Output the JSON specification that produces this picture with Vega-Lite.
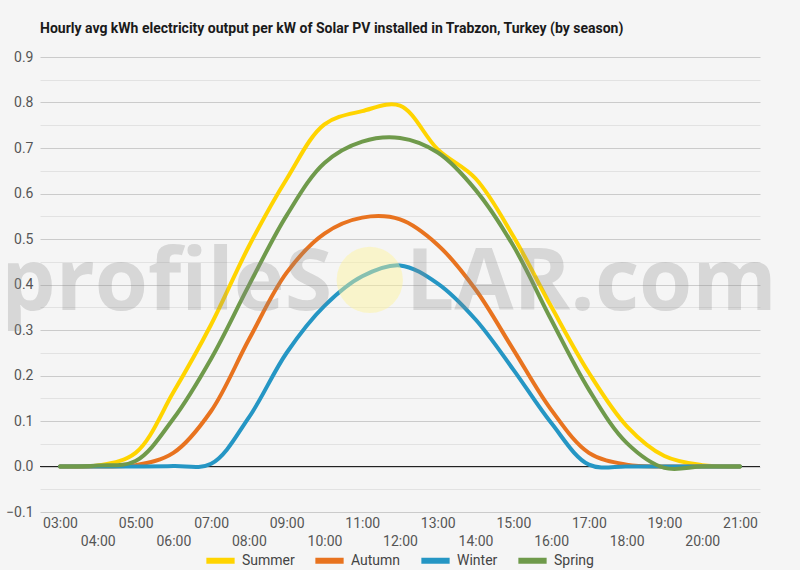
{
  "$schema": "https://vega.github.io/schema/vega-lite/v6.json",
  "description": "Hourly avg kWh per kW of solar PV in Trabzon, by season",
  "width": 720,
  "height": 455,
  "autosize": {"type": "none"},
  "padding": {"left": 40, "top": 57, "right": 40, "bottom": 58},
  "background": "#f5f5f5",
  "title": {
    "text": "Hourly avg kWh electricity output per kW of Solar PV installed in Trabzon, Turkey (by season)",
    "anchor": "start",
    "frame": "group",
    "font": "Roboto",
    "fontSize": 14,
    "fontWeight": "bold",
    "color": "#1a1a1a",
    "offset": 14
  },
  "config": {
    "view": {"stroke": null},
    "font": "Roboto"
  },
  "data": {
    "values": [
      {"hour": 3, "season": "Summer", "kwh": 0},
      {"hour": 4, "season": "Summer", "kwh": 0.002},
      {"hour": 5, "season": "Summer", "kwh": 0.03},
      {"hour": 6, "season": "Summer", "kwh": 0.163},
      {"hour": 7, "season": "Summer", "kwh": 0.312},
      {"hour": 8, "season": "Summer", "kwh": 0.484},
      {"hour": 9, "season": "Summer", "kwh": 0.632},
      {"hour": 10, "season": "Summer", "kwh": 0.752},
      {"hour": 11, "season": "Summer", "kwh": 0.781},
      {"hour": 12, "season": "Summer", "kwh": 0.793},
      {"hour": 13, "season": "Summer", "kwh": 0.697},
      {"hour": 14, "season": "Summer", "kwh": 0.633},
      {"hour": 15, "season": "Summer", "kwh": 0.506},
      {"hour": 16, "season": "Summer", "kwh": 0.352},
      {"hour": 17, "season": "Summer", "kwh": 0.206},
      {"hour": 18, "season": "Summer", "kwh": 0.089},
      {"hour": 19, "season": "Summer", "kwh": 0.023},
      {"hour": 20, "season": "Summer", "kwh": 0.003},
      {"hour": 21, "season": "Summer", "kwh": 0},
      {"hour": 3, "season": "Autumn", "kwh": 0},
      {"hour": 4, "season": "Autumn", "kwh": 0},
      {"hour": 5, "season": "Autumn", "kwh": 0.003},
      {"hour": 6, "season": "Autumn", "kwh": 0.03},
      {"hour": 7, "season": "Autumn", "kwh": 0.122},
      {"hour": 8, "season": "Autumn", "kwh": 0.279},
      {"hour": 9, "season": "Autumn", "kwh": 0.426},
      {"hour": 10, "season": "Autumn", "kwh": 0.512},
      {"hour": 11, "season": "Autumn", "kwh": 0.547},
      {"hour": 12, "season": "Autumn", "kwh": 0.543},
      {"hour": 13, "season": "Autumn", "kwh": 0.487},
      {"hour": 14, "season": "Autumn", "kwh": 0.389},
      {"hour": 15, "season": "Autumn", "kwh": 0.257},
      {"hour": 16, "season": "Autumn", "kwh": 0.125},
      {"hour": 17, "season": "Autumn", "kwh": 0.03},
      {"hour": 18, "season": "Autumn", "kwh": 0.004},
      {"hour": 19, "season": "Autumn", "kwh": 0},
      {"hour": 20, "season": "Autumn", "kwh": 0},
      {"hour": 21, "season": "Autumn", "kwh": 0},
      {"hour": 3, "season": "Winter", "kwh": 0},
      {"hour": 4, "season": "Winter", "kwh": 0},
      {"hour": 5, "season": "Winter", "kwh": 0},
      {"hour": 6, "season": "Winter", "kwh": 0.001},
      {"hour": 7, "season": "Winter", "kwh": 0.006},
      {"hour": 8, "season": "Winter", "kwh": 0.108},
      {"hour": 9, "season": "Winter", "kwh": 0.25},
      {"hour": 10, "season": "Winter", "kwh": 0.353},
      {"hour": 11, "season": "Winter", "kwh": 0.418},
      {"hour": 12, "season": "Winter", "kwh": 0.442},
      {"hour": 13, "season": "Winter", "kwh": 0.402},
      {"hour": 14, "season": "Winter", "kwh": 0.323},
      {"hour": 15, "season": "Winter", "kwh": 0.213},
      {"hour": 16, "season": "Winter", "kwh": 0.096},
      {"hour": 17, "season": "Winter", "kwh": 0.004},
      {"hour": 18, "season": "Winter", "kwh": 0},
      {"hour": 19, "season": "Winter", "kwh": 0},
      {"hour": 20, "season": "Winter", "kwh": 0},
      {"hour": 21, "season": "Winter", "kwh": 0},
      {"hour": 3, "season": "Spring", "kwh": 0},
      {"hour": 4, "season": "Spring", "kwh": 0.002},
      {"hour": 5, "season": "Spring", "kwh": 0.012},
      {"hour": 6, "season": "Spring", "kwh": 0.105},
      {"hour": 7, "season": "Spring", "kwh": 0.237},
      {"hour": 8, "season": "Spring", "kwh": 0.398},
      {"hour": 9, "season": "Spring", "kwh": 0.552},
      {"hour": 10, "season": "Spring", "kwh": 0.667},
      {"hour": 11, "season": "Spring", "kwh": 0.714},
      {"hour": 12, "season": "Spring", "kwh": 0.722},
      {"hour": 13, "season": "Spring", "kwh": 0.69},
      {"hour": 14, "season": "Spring", "kwh": 0.608},
      {"hour": 15, "season": "Spring", "kwh": 0.485},
      {"hour": 16, "season": "Spring", "kwh": 0.323},
      {"hour": 17, "season": "Spring", "kwh": 0.169},
      {"hour": 18, "season": "Spring", "kwh": 0.052},
      {"hour": 19, "season": "Spring", "kwh": -0.003},
      {"hour": 20, "season": "Spring", "kwh": 0},
      {"hour": 21, "season": "Spring", "kwh": 0}
    ]
  },
  "encoding": {
    "x": {
      "field": "hour",
      "type": "quantitative",
      "scale": {"domain": [2.47, 21.53], "nice": false, "zero": false},
      "axis": {
        "title": null,
        "values": [3, 4, 5, 6, 7, 8, 9, 10, 11, 12, 13, 14, 15, 16, 17, 18, 19, 20, 21],
        "labelExpr": "datum.value % 2 == 0 ? ['', (datum.value < 10 ? '0' : '') + datum.value + ':00'] : (datum.value < 10 ? '0' : '') + datum.value + ':00'",
        "grid": false,
        "ticks": false,
        "domain": false,
        "labelPadding": 4,
        "labelFontSize": 14,
        "labelLineHeight": 18,
        "labelColor": "#555555",
        "labelOverlap": false,
        "labelFlush": false,
        "labelBound": false
      }
    },
    "y": {
      "field": "kwh",
      "type": "quantitative",
      "scale": {"domain": [-0.1, 0.9], "nice": false},
      "axis": {
        "title": null,
        "values": [-0.1, -0.05, 0, 0.05, 0.1, 0.15, 0.2, 0.25, 0.3, 0.35, 0.4, 0.45, 0.5, 0.55, 0.6, 0.65, 0.7, 0.75, 0.8, 0.85, 0.9],
        "labelExpr": "abs(round(datum.value * 10) - datum.value * 10) < 0.01 ? format(datum.value, '.1f') : ''",
        "gridColor": {
          "condition": {"test": "abs(round(datum.value * 10) - datum.value * 10) < 0.01", "value": "#cbcbcb"},
          "value": "#e2e2e2"
        },
        "gridWidth": 1,
        "ticks": false,
        "domain": false,
        "labelPadding": 7,
        "labelFontSize": 14,
        "labelColor": "#555555",
        "labelOverlap": false
      }
    }
  },
  "layer": [
    {
      "transform": [{"filter": "datum.hour == 3 && datum.season == 'Summer'"}],
      "mark": {"type": "rule", "color": "#222222", "strokeWidth": 1},
      "encoding": {"y": {"datum": 0}, "x": null}
    },
    {
      "mark": {"type": "line", "interpolate": "catmull-rom", "strokeWidth": 4, "strokeCap": "round"},
      "encoding": {
        "color": {
          "field": "season",
          "type": "nominal",
          "scale": {
            "domain": ["Summer", "Autumn", "Winter", "Spring"],
            "range": ["#ffd400", "#e8731f", "#2596c4", "#6f9a4b"]
          },
          "legend": {
            "title": null,
            "orient": "none",
            "legendX": 163,
            "legendY": 486,
            "direction": "horizontal",
            "symbolType": "stroke",
            "symbolStrokeWidth": 6,
            "symbolSize": 800,
            "labelFontSize": 14,
            "labelColor": "#444444",
            "columnPadding": 8
          }
        }
      }
    },
    {
      "transform": [{"filter": "datum.hour == 3 && datum.season == 'Summer'"}],
      "mark": {"type": "point", "filled": true, "shape": "circle", "size": 4400, "fill": "#fff59a", "fillOpacity": 0.45, "strokeWidth": 0},
      "encoding": {"x": {"datum": 11.2}, "y": {"datum": 0.41}}
    },
    {
      "transform": [{"filter": "datum.hour == 3 && datum.season == 'Summer'"}],
      "mark": {"type": "text", "align": "right", "baseline": "alphabetic", "font": "Open Sans", "fontWeight": "bold", "fontSize": 86, "fill": "#888888", "fillOpacity": 0.28},
      "encoding": {"x": {"datum": 10.2}, "y": {"datum": 0.345}, "text": {"value": "profileS"}}
    },
    {
      "transform": [{"filter": "datum.hour == 3 && datum.season == 'Summer'"}],
      "mark": {"type": "text", "align": "left", "baseline": "alphabetic", "font": "Open Sans", "fontWeight": "bold", "fontSize": 86, "fill": "#888888", "fillOpacity": 0.28},
      "encoding": {"x": {"datum": 12.15}, "y": {"datum": 0.345}, "text": {"value": "LAR.com"}}
    }
  ]
}
